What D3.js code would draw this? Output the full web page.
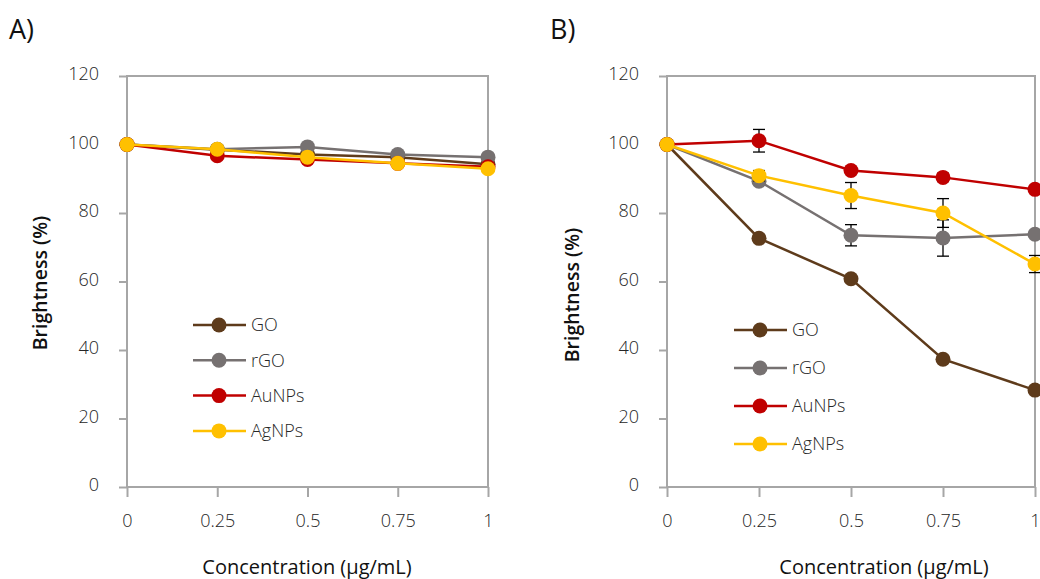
<!DOCTYPE html>
<html><head><meta charset="utf-8">
<script src="https://cdn.jsdelivr.net/npm/d3@7"></script>
<style>
html,body{margin:0;padding:0;background:#fff;}
svg{display:block;font-family:"Open Sans","Noto Sans",sans-serif;}
</style></head>
<body>
<svg id="c" width="1040" height="579"></svg>
<script>
// ---- data ----
const concentrations = [0, 0.25, 0.5, 0.75, 1];
const xTickLabels = ["0", "0.25", "0.5", "0.75", "1"];
const yTicks = [0, 20, 40, 60, 80, 100, 120];
const seriesNames = ["GO", "rGO", "AuNPs", "AgNPs"];
const seriesColors = ["#5E3B1B", "#767171", "#C00000", "#FFC000"];

// Panel A values
const A_GO    = [100, 98.5, 97.1, 96.3, 94.2];
const A_rGO   = [100, 98.6, 99.3, 97.1, 96.3];
const A_AuNPs = [100, 96.7, 95.6, 94.5, 93.5];
const A_AgNPs = [100, 98.6, 96.3, 94.5, 92.9];

// Panel B values and error bars
const B_GO    = [100, 72.6, 60.8, 37.3, 28.3];
const B_rGO   = [100, 89.3, 73.5, 72.7, 73.8];
const B_AuNPs = [100, 101.1, 92.4, 90.4, 86.9];
const B_AgNPs = [100, 90.9, 85.1, 80.0, 65.1];
const B_GO_err    = [0, 1.0, 0.8, 1.0, 0.8];
const B_rGO_err   = [0, 1.0, 3.1, 5.3, 0.8];
const B_AuNPs_err = [0, 3.3, 0.8, 1.2, 0.6];
const B_AgNPs_err = [0, 1.5, 3.8, 4.2, 2.5];

const svg = d3.select("#c");
const axisColor = "#A6A6A6";
const textColor = "#262626";

function panel(cfg) {
  const x = d3.scaleLinear().domain([0, 1]).range([cfg.x0, cfg.x1]);
  const y = d3.scaleLinear().domain([0, 120]).range([487, 76]);
  const g = svg.append("g");

  // plot box
  g.append("rect").attr("x", x(0)).attr("y", y(120))
    .attr("width", x(1) - x(0)).attr("height", y(0) - y(120))
    .attr("fill", "none").attr("stroke", axisColor).attr("stroke-width", 2);

  // y axis
  const ya = d3.axisLeft(y).tickValues(yTicks).tickSize(8).tickPadding(20).tickFormat(d3.format("d"));
  const yg = g.append("g").attr("transform", `translate(${x(0)},0)`).call(ya);
  yg.select(".domain").remove();
  yg.selectAll("line").attr("stroke", axisColor).attr("stroke-width", 2);
  yg.selectAll("text").attr("fill", textColor).attr("font-size", 18).attr("font-weight", 300)
    .attr("font-family", "Open Sans").attr("dy", "0.2em");

  // x axis
  const xa = d3.axisBottom(x).tickValues(concentrations).tickSize(10).tickPadding(17)
    .tickFormat((d, i) => xTickLabels[i]);
  const xg = g.append("g").attr("transform", `translate(0,${y(0)})`).call(xa);
  xg.select(".domain").remove();
  xg.selectAll("line").attr("stroke", axisColor).attr("stroke-width", 2);
  xg.selectAll("text").attr("fill", textColor).attr("font-size", 18).attr("font-weight", 300)
    .attr("font-family", "Open Sans");

  // titles
  g.append("text").attr("x", cfg.xTitleX).attr("y", 574).attr("text-anchor", "middle")
    .attr("font-size", 20).attr("fill", "#111").text("Concentration (µg/mL)");
  g.append("text").attr("transform", `translate(${cfg.yTitleX},${cfg.yTitleY}) rotate(-90)`)
    .attr("text-anchor", "middle").attr("dy", "0.35em").attr("font-size", 19.5).attr("font-weight", 600)
    .attr("fill", "#111").text("Brightness (%)");
  g.append("text").attr("x", cfg.labelX).attr("y", 39).attr("font-size", 27).attr("fill", "#111").text(cfg.label);

  const line = d3.line().x((d, i) => x(concentrations[i])).y(d => y(d));
  cfg.series.forEach((vals, s) => {
    const sg = g.append("g");
    sg.append("path").attr("d", line(vals)).attr("fill", "none")
      .attr("stroke", seriesColors[s]).attr("stroke-width", 2.5);
    if (cfg.errors) {
      const err = cfg.errors[s];
      vals.forEach((v, i) => {
        if (!err[i]) return;
        const cx = x(concentrations[i]);
        const eg = sg.append("g").attr("stroke", "#000").attr("stroke-width", 1.3);
        eg.append("line").attr("x1", cx).attr("x2", cx).attr("y1", y(v + err[i])).attr("y2", y(v - err[i]));
        [v + err[i], v - err[i]].forEach(e => {
          eg.append("line").attr("x1", cx - 6).attr("x2", cx + 6).attr("y1", y(e)).attr("y2", y(e));
        });
      });
    }
    sg.selectAll("circle").data(vals).enter().append("circle")
      .attr("cx", (d, i) => x(concentrations[i])).attr("cy", d => y(d)).attr("r", 7.5)
      .attr("fill", seriesColors[s]);
  });

  // legend
  const lg = g.append("g");
  seriesNames.forEach((name, s) => {
    const ly = cfg.legY + s * cfg.legStep;
    lg.append("line").attr("x1", cfg.legX).attr("x2", cfg.legX + 53).attr("y1", ly).attr("y2", ly)
      .attr("stroke", seriesColors[s]).attr("stroke-width", 2.5);
    lg.append("circle").attr("cx", cfg.legX + 26).attr("cy", ly).attr("r", 7.5).attr("fill", seriesColors[s]);
    lg.append("text").attr("x", cfg.legX + 58).attr("y", ly).attr("dy", "0.35em")
      .attr("font-size", 18).attr("font-weight", 300).attr("fill", textColor).text(name);
  });
}

panel({
  x0: 127, x1: 488, label: "A)", labelX: 9, xTitleX: 307, yTitleX: 40, yTitleY: 283,
  series: [A_GO, A_rGO, A_AuNPs, A_AgNPs], errors: null,
  legX: 193, legY: 325, legStep: 35.3
});
panel({
  x0: 667, x1: 1035, label: "B)", labelX: 550, xTitleX: 884, yTitleX: 572, yTitleY: 295,
  series: [B_GO, B_rGO, B_AuNPs, B_AgNPs], errors: [B_GO_err, B_rGO_err, B_AuNPs_err, B_AgNPs_err],
  legX: 734, legY: 330, legStep: 38
});
</script>
</body></html>
